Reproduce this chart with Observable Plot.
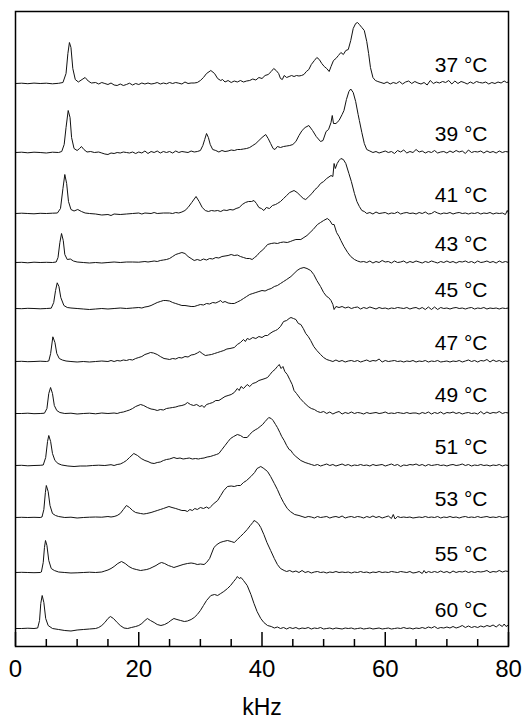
<!DOCTYPE html>
<html>
<head>
<meta charset="utf-8">
<script src="https://cdn.jsdelivr.net/npm/d3@7"></script>
<script src="https://cdn.jsdelivr.net/npm/@observablehq/plot@0.6"></script>
<style>
  html, body { margin: 0; padding: 0; background: #fff; }
  #chart svg { display: block; }
</style>
</head>
<body>
<div id="chart"></div>
<script>
// Temperatures (one spectrum each), top to bottom
const temps = ["37", "39", "41", "43", "45", "47", "49", "51", "53", "55", "60"];
// Vertical offset (baseline) of each spectrum, in intensity units
const offsets = [563, 494, 433, 384, 338, 285, 233, 181, 129, 74, 18];
// X tick labels (kHz)
const majorTicks = [0, 20, 40, 60, 80];
const minorTicks = [5, 10, 15, 25, 30, 35, 45, 50, 55, 65, 70, 75];

// Spectra: flat pairs [kHz, intensity above baseline, ...]
const t37 = [0,0, 1,0.3, 2,-0.2, 3,0.4, 4,0, 5,0.3, 6,-0.3, 7,0.2, 7.7,1, 8.2,10, 8.5,30, 8.75,41, 9.0,36, 9.3,15, 9.7,4, 10.2,1.5, 10.8,4, 11.3,6, 11.8,2.5, 12.3,0.5, 13,1, 13.5,-0.5, 14,1, 14.5,0, 15,-1, 15.5,0.5, 16,-1.5, 16.5,-2, 17,-0.5, 17.5,-2, 18,-1, 18.5,0.3, 19,-1.5, 19.5,0, 20,-1, 20.5,0.5, 21,-0.5, 21.5,0.5, 22,-0.5, 22.5,0, 23,1, 23.5,-0.5, 24,0.5, 24.5,-0.3, 25,1, 25.5,0, 26,1, 26.5,0.3, 27,-0.5, 27.5,1.5, 28,0, 28.5,0.5, 29,0.5, 29.5,1, 30,3, 30.5,6, 31,10, 31.7,13, 32.3,10, 32.8,5, 33.3,3, 33.6,4, 34,1.5, 34.5,3, 35,1, 35.5,2.5, 36,1.5, 36.5,3, 37,1.5, 37.5,2.5, 38,3, 38.5,4.5, 39,3.5, 39.5,6, 40,5, 40.5,8, 41,9, 41.5,12, 41.9,15, 42.3,13, 42.7,10, 43,5, 43.3,4, 43.6,8, 44,6, 44.4,7, 44.8,8, 45.2,7, 45.6,8, 46,7.5, 46.4,8, 46.8,9, 47.2,12, 47.6,14, 48,19, 48.5,23, 48.9,26, 49.3,24, 49.7,20, 50.1,17, 50.5,15, 50.9,12, 51.2,17, 51.6,23, 52,25, 52.4,28, 52.8,31, 53.2,29, 53.6,33, 54,34, 54.4,43, 54.8,55, 55.2,60, 55.5,61, 55.8,59, 56.2,56, 56.6,53, 57,42, 57.3,30, 57.6,16, 58,6, 58.4,3, 58.8,2, 59.3,1, 59.8,0, 60.3,1.5, 60.8,-0.5, 61.3,1, 61.8,0, 62.3,2, 62.8,-0.5, 63.3,1.5, 63.8,2.5, 64.3,0, 64.8,2, 65.3,0.5, 65.8,-0.5, 66.3,1, 66.8,-1.5, 67.3,3, 67.8,0, 68.3,1.5, 68.8,0.5, 69.3,2, 69.8,1, 70.3,3, 70.8,-0.5, 71.3,2.5, 71.8,0, 72.3,2, 72.8,1, 73.3,-0.5, 73.8,1.5, 74.3,0, 74.8,2, 75.3,1, 75.8,0.5, 76.3,1.5, 76.8,-0.5, 77.3,1, 77.8,0, 78.3,1.5, 78.8,0.5, 79.3,2.5, 79.7,1, 80,1.5];
const t39 = [0,0, 1,0.3, 2,-0.3, 3,0.3, 4,0, 5,-0.5, 6,0.3, 7,0, 7.5,1, 7.9,8, 8.2,25, 8.55,42, 8.85,35, 9.1,15, 9.5,4, 10,2, 10.4,4, 10.7,6, 11.1,3, 11.6,0.5, 12.2,1, 12.8,0, 13.5,0.5, 14,-0.5, 14.5,-1.5, 15,-2, 15.5,-0.5, 16,-1, 16.5,0, 17,-0.5, 17.5,0.5, 18,0, 18.5,-0.5, 19,0.5, 19.5,-1, 20,0.5, 20.5,-0.5, 21,1.5, 21.5,-1, 22,1, 22.5,0, 23,1.5, 23.5,-0.5, 24,1, 24.5,0, 25,1, 25.5,-0.5, 26,1.5, 26.5,0, 27,1, 27.5,0.5, 28,0, 28.5,1.5, 29,0.5, 29.5,1, 30,2, 30.4,7, 30.7,13, 31,19, 31.3,15, 31.6,8, 32,3, 32.5,2, 33,0.5, 33.5,2, 34,1, 34.5,1.5, 35,2.5, 35.5,2, 36,3, 36.5,3, 37,3.5, 37.5,4, 38,5, 38.5,7, 39,9, 39.5,12, 40,15, 40.6,18, 41,14, 41.4,9, 41.8,4, 42.1,3, 42.5,6, 43,5, 43.5,6, 44,6.5, 44.5,7, 45,8, 45.5,11, 46,17, 46.5,22, 47,25, 47.6,27, 48.2,22, 48.8,16, 49.5,11, 49.9,12, 50.4,21, 50.8,23, 51.2,30, 51.4,37, 51.6,29, 52,29, 52.5,32, 53,38, 53.3,42, 53.7,53, 54.1,61, 54.4,63.5, 54.8,60, 55.2,51, 55.6,38, 55.8,32, 56.2,20, 56.6,9, 57,3, 57.5,1.5, 58,0, 58.5,1, 59,-0.5, 59.5,0.5, 60,1.5, 60.5,0, 61,1, 61.5,-1, 62,2, 62.5,0.5, 63,2.5, 63.5,-0.5, 64,1, 64.5,0, 65,3, 65.5,0.5, 66,1.5, 66.5,-0.5, 67,1, 67.5,0, 68,2, 68.5,-0.5, 69,0.5, 69.5,1, 70,-0.5, 70.5,1.5, 71,0, 71.5,2, 72,0.5, 72.5,1.5, 73,-1, 73.5,2.5, 74,0, 74.5,1, 75,0.5, 75.5,1.5, 76,-0.5, 76.5,1.5, 77,0, 77.5,1, 78,-0.5, 78.5,1.5, 79,0, 79.5,1, 80,0.5];
const t41 = [0,0, 1,0.3, 2,0, 3,-0.3, 4,0.2, 5,0, 6,0.3, 6.8,0.5, 7.3,5, 7.7,25, 8.0,39, 8.3,30, 8.6,12, 9,4, 9.5,2.5, 10.1,4, 10.7,2, 11.3,0.5, 12,0, 13,-0.5, 14,-1.5, 15,-1, 15.5,-2, 16,-0.5, 17,-1, 18,-0.5, 19,0, 20,0.5, 20.5,-0.5, 21,0.5, 22,0, 22.5,1, 23,0, 24,0.5, 25,0.5, 25.5,0, 26,1, 26.5,0.5, 27,1.5, 27.5,3, 28,6, 28.6,11, 29.3,17, 29.8,12, 30.3,6, 30.8,3, 31.3,2, 31.8,3, 32.3,2.5, 32.8,3, 33.3,2, 33.8,3.5, 34.3,3, 34.8,4, 35.3,3.5, 35.8,5, 36.3,6, 36.8,9, 37.3,11, 37.8,12, 38.3,12, 38.7,13, 39.1,10, 39.5,6, 39.9,5, 40.3,3, 40.7,6, 41.2,5, 41.7,8, 42.2,9, 42.5,10, 43,12, 43.5,15, 44,18, 44.5,21, 45.2,23, 45.7,21, 46.2,18, 46.7,15, 47.1,14, 47.6,17, 48.1,20, 48.6,24, 49,26, 49.5,30, 50,32, 50.5,35, 51.2,38, 51.5,37, 51.7,50, 51.9,45, 52.2,50, 52.5,53, 52.8,55, 53.2,54, 53.6,50, 54.1,40, 54.5,32, 55,20, 55.4,12, 55.8,7, 56.2,3, 56.6,2, 57,0, 57.5,1, 58,-0.5, 58.5,1.5, 59,0, 59.5,0.5, 60,1, 60.5,-0.5, 61,0.5, 61.5,0, 62,1.5, 62.5,-0.5, 63,0.5, 63.5,1, 64,0, 64.5,0.5, 65,-0.5, 65.5,1, 66,0, 66.5,1.5, 67,-0.5, 67.5,0, 68,2, 68.5,0.5, 69,-0.5, 69.5,0.5, 70,0, 70.5,1, 71,-0.5, 71.5,0.5, 72,1, 72.5,0, 73,0.5, 73.5,-0.5, 74,0.5, 74.5,0, 75,1, 75.5,-0.5, 76,0.5, 76.5,0, 77,1, 77.5,-0.5, 78,0.5, 78.5,0, 79,0.5, 79.5,-1, 79.8,3, 80,0.5];
const t43 = [0,0, 1,0.2, 2,-0.3, 3,0.3, 4,0, 5,0.2, 6,0, 6.6,0.5, 6.9,5, 7.2,20, 7.47,29, 7.75,22, 8.0,8, 8.4,3, 8.9,3.5, 9.4,1.5, 10,0.5, 11,0, 12,-0.5, 13,0, 14,-0.5, 15,0, 16,0.5, 17,0, 18,0.5, 19,0.5, 20,0.3, 21,1, 21.5,0.5, 22,1, 22.5,1.5, 23,1, 23.5,2, 24,2.5, 24.5,3, 25,4, 25.5,6, 26,8, 26.5,9, 27,10, 27.5,9, 28,6, 28.5,4, 29,2, 29.5,3, 30,2, 30.5,3.5, 31,2.5, 31.5,4, 32,3.5, 32.5,5, 33,4.5, 33.5,6, 34,6.5, 34.5,7, 35,8, 35.5,7, 36,7.5, 36.5,6, 37,5, 37.5,4, 38,4, 38.4,3, 38.8,5, 39.2,7, 39.6,10, 40,12, 40.5,15, 40.9,18, 41.5,19, 42,19.5, 42.5,19, 43,20, 43.5,20.5, 44.1,20, 44.6,21, 45,22, 45.5,23, 46.3,23, 46.8,25, 47.3,27, 47.8,30, 48.3,33, 49,38, 49.5,40, 50,42, 50.6,44, 51,42, 51.4,38, 51.7,38, 52.1,30, 52.5,26, 52.8,22, 53.3,16, 53.9,10, 54.4,6, 55,3, 55.5,1.5, 56,0.5, 56.5,1, 57,0, 57.5,1.5, 58,-0.5, 58.5,1, 59,0, 59.5,2, 60,0.5, 60.5,1, 61,-0.5, 61.5,1.5, 62,0, 62.5,0.5, 63,1.5, 63.5,-0.5, 64,1, 64.5,0, 65,1.5, 65.5,0.5, 66,-0.5, 66.5,1, 67,0, 67.5,1.5, 68,0.5, 68.5,-0.5, 69,1, 69.5,0, 70,1.5, 70.5,0, 71,1, 71.5,-0.5, 72,1, 72.5,0.5, 73,1.5, 73.5,0, 74,1, 74.5,-0.5, 75,1.5, 75.5,0, 76,0.5, 76.5,1.5, 77,0, 77.5,1, 78,-0.5, 78.5,1.5, 79,0, 79.5,1, 80,0];
const t45 = [0,0, 1,-0.2, 2,0.2, 3,0, 4,-0.3, 5,0, 5.8,0.3, 6.2,6, 6.5,18, 6.77,25.7, 7.05,22, 7.35,11, 7.85,3, 8.4,1, 9,0.5, 10,0, 11,-0.5, 12,-1, 13,-0.5, 14,0, 15,-0.5, 16,0, 17,0.5, 18,0, 19,0.5, 20,1, 20.5,0.5, 21,1.5, 21.5,2, 22,3, 22.5,4.5, 23,6, 23.5,7, 24,8, 24.4,8, 25,7.5, 25.5,6, 26,5, 26.5,4, 27,3, 27.5,3, 28,2.5, 28.5,2, 29,2, 29.5,3, 30,4, 30.5,3.5, 31,5, 31.5,4.5, 32,6, 32.5,5.5, 33,7, 33.3,8, 33.6,6, 34,7, 34.5,5.5, 35,5, 35.5,5, 36,6.5, 36.5,8, 37,10, 37.5,12, 38,14, 38.5,15, 39,16, 39.5,17, 40,18, 40.5,17.5, 41,19, 41.5,20, 42,22, 42.5,23, 43,25, 43.5,27, 44,29, 44.7,32, 45.2,35, 45.7,38, 46.2,40, 46.8,41, 47.3,40, 47.9,38, 48.4,34, 48.9,28, 49.5,22, 50,16, 50.5,12, 50.8,11, 51.2,8, 51.5,4, 51.7,-1, 52,2, 52.5,1, 53,2, 53.5,0.5, 54,1.5, 54.5,0, 55,1, 55.5,1.5, 56,-0.5, 56.5,1, 57,0, 57.5,1.5, 58,0.5, 58.5,-0.5, 59,1, 59.5,0, 60,0.5, 60.5,-0.5, 61,0.5, 61.5,0, 62,1, 62.5,0.5, 63,0, 63.5,1, 64,-0.5, 64.5,0.5, 65,1, 65.5,-0.5, 66,1, 66.5,-1, 67,1.5, 67.5,-1, 68,1.5, 68.5,-1, 69,1, 69.5,0, 70,0.5, 70.5,-0.5, 71,0.5, 71.5,1, 72,0, 72.5,0.5, 73,-0.5, 73.5,0.5, 74,1, 74.5,-0.5, 75,0.5, 75.5,0, 76,1, 76.5,-0.5, 77,0.5, 77.5,0, 78,0.5, 78.5,-0.5, 79,0.5, 79.5,0, 80,0.5];
const t47 = [0,0, 1,0.2, 2,-0.2, 3,0, 4,0.3, 5,0, 5.4,0.5, 5.7,8, 6.06,24.7, 6.4,19, 6.7,8, 7.1,3, 7.6,1.5, 8.2,0.5, 9,0, 10,-0.5, 11,0, 12,-0.5, 13,0, 14,0.5, 15,0, 15.5,1, 16,0, 16.5,1, 17,0.5, 17.5,1.5, 18,1, 18.5,2, 19,1.5, 19.5,3, 20,4, 20.5,5, 21,7, 21.5,8, 21.9,9, 22.4,8.5, 23,7, 23.5,5, 24.1,3, 24.6,2.5, 25,2, 25.5,3, 26,2.5, 26.5,4, 27,3.5, 27.5,5, 28,4.5, 28.5,6.5, 29,7, 29.5,8.5, 29.9,10, 30.3,8, 30.8,6, 31.3,6.5, 31.8,7, 32.3,8, 32.8,9, 33.3,10, 33.8,11, 34.3,12.5, 34.8,13, 35.5,14, 36,17, 36.5,19, 37,22, 37.3,20, 37.6,23, 38,22, 38.5,24, 39,23, 39.5,25, 40,24, 40.5,26, 40.9,26, 41.3,28, 41.8,30, 42.2,31, 42.5,32, 43,35, 43.5,40, 44,41, 44.4,43, 44.7,44, 45.1,43, 45.5,42, 45.9,38, 46.3,37, 46.7,33, 47.1,28, 47.5,25, 47.9,21, 48.4,15, 48.9,11, 49.5,7, 50,4, 50.5,2, 51,1, 51.5,0, 52,1.5, 52.5,0, 53,1, 53.5,-0.5, 54,0.5, 54.5,1, 55,0, 55.5,1, 56,-0.5, 56.5,0.5, 57,1.5, 57.5,0, 58,1, 58.5,0.5, 59,2.5, 59.5,-0.5, 60,1, 60.5,0, 61,0.5, 61.5,1, 62,0, 62.5,0.5, 63,-0.5, 63.5,0.5, 64,0, 64.5,1, 65,-0.5, 65.5,0.5, 66,0, 66.5,1, 67,-0.5, 67.5,0.5, 68,0, 68.5,1, 69,-0.5, 69.5,0, 70,0.5, 70.5,-0.5, 71,0.5, 71.5,0, 72,1, 72.5,-0.5, 73,0.5, 73.5,1.5, 74,0, 74.5,1, 75,-0.5, 75.5,1, 76,0.5, 76.5,2, 77,-0.5, 77.5,1.5, 78,0, 78.5,1, 79,-0.5, 79.5,0.5, 80,0];
const t49 = [0,0, 1,0, 2,0.3, 3,-0.2, 4,0, 4.7,0.3, 5.1,5, 5.4,20, 5.69,26, 6.0,20, 6.3,8, 6.7,3, 7.2,1, 8,0, 9,0.3, 10,-0.5, 11,0, 12,0.3, 13,-0.3, 14,0.5, 15,0, 16,0.5, 16.5,0, 17,1, 17.5,1.5, 18,2.5, 18.5,3.5, 19,5, 19.5,7, 20.3,9, 20.8,8, 21.4,6, 22,4.5, 22.5,4, 23,3, 23.5,4, 24,3.5, 24.5,5, 25,5.5, 25.5,6, 26,6.5, 26.5,7.5, 27,8, 27.5,9, 27.9,11, 28.4,9, 28.9,8, 29.4,9, 29.9,7, 30.3,8, 30.6,6, 31,9, 31.5,10, 32,11, 32.5,13, 33,13, 33.5,15, 34,17, 34.5,18, 35,19, 35.5,21, 36,25, 36.3,23, 36.6,27, 37,25, 37.6,29, 38,27, 38.5,30, 39,31, 39.5,33, 40,34, 40.5,35, 40.9,36, 41.3,39, 41.7,42, 42.1,44, 42.5,47, 42.8,49, 43.1,45, 43.4,47, 43.7,42, 44.1,39, 44.5,34, 44.9,29, 45.2,23, 45.6,20, 46.2,15, 46.8,11, 47.5,7, 48,5, 48.5,4, 49,2, 49.5,1, 50,2, 50.5,0, 51,1.5, 51.5,-0.5, 52,1, 52.5,2, 53,-0.5, 53.5,1, 54,0, 54.5,1.5, 55,0, 55.5,1, 56,0.5, 56.5,-0.5, 57,1, 57.5,0, 58,0.5, 58.5,1, 59,0, 59.5,0.5, 60,1.5, 60.5,0, 61,0.5, 61.5,0, 62,1, 62.5,0.5, 63,0, 63.5,1, 64,0, 64.5,0.5, 65,0.5, 65.5,-0.5, 66,1, 66.5,0, 67,1.5, 67.5,-0.5, 68,1, 68.5,0, 69,1.5, 69.5,-0.5, 70,1, 70.5,0.5, 71,1.5, 71.5,0, 72,1, 72.5,-0.5, 73,0.5, 73.5,1, 74,0, 74.5,0.5, 75,-0.5, 75.5,2, 76,-0.5, 76.5,1.5, 77,0, 77.5,1, 78,0.5, 78.5,2, 79,0, 79.5,1, 80,0.5];
const t51 = [0,0, 1,0.2, 2,-0.3, 3,0, 4,0.2, 4.5,0.5, 4.9,8, 5.2,24, 5.4,30, 5.7,24, 6,12, 6.4,5, 6.9,2, 7.5,0.5, 8.5,-0.5, 9.5,-1, 10.5,-0.5, 11.5,-0.5, 12.5,0, 13.5,0.3, 14.5,0, 15.5,0.8, 16,0, 16.5,1, 17,1.5, 17.5,3, 18,5, 18.5,8, 19.2,12, 19.8,10, 20.4,7, 21,5, 21.5,4, 22,2.5, 22.5,2, 23,3, 23.5,3.5, 24,5, 24.5,6, 25,6.5, 25.7,8, 26.2,7, 26.7,7.5, 27.2,6.5, 27.7,7, 28.2,7.5, 28.7,6.5, 29.2,7, 29.7,6.5, 30,7, 30.6,7.5, 31.1,8.5, 31.6,9, 32.1,10, 32.6,11, 33,12, 33.5,16, 34,20, 34.5,24, 34.9,27, 35.4,29, 36,31, 36.5,30, 37,28, 37.6,28, 38,31, 38.5,34, 39,36, 39.3,37, 39.7,39, 40.1,41, 40.5,44, 41.1,48, 41.5,47, 41.8,45, 42.2,41, 42.5,38, 42.9,33, 43.2,29, 43.6,25, 44,20, 44.4,16, 44.7,15, 45,12, 45.5,9, 46.3,5, 47,3, 47.5,2, 48,1, 48.5,0, 49,1, 49.5,-0.5, 50,0.5, 50.5,1.5, 51,0, 51.5,1, 52,-0.5, 52.5,0.5, 53,1.5, 53.5,0, 54,1, 54.5,-0.5, 55,0.5, 55.5,0, 56,1, 56.5,0, 57,0.5, 57.5,-0.5, 58,1, 58.5,0, 59,0.5, 59.5,1, 60,-0.5, 60.5,0.5, 61,1.5, 61.5,0, 62,1, 62.5,-1, 63,0.5, 63.5,0, 64,1, 64.5,0.5, 65,1.5, 65.5,0, 66,1, 66.5,-0.5, 67,1, 67.5,0, 68,0.5, 68.5,1, 69,0, 69.5,0.5, 70,-0.5, 70.5,0.5, 71,1, 71.5,0, 72,0.5, 72.5,1.5, 73,0, 73.5,1, 74,-0.5, 74.5,0.5, 75,0, 75.5,1, 76,0, 76.5,0.5, 77,-0.5, 77.5,0.5, 78,0, 78.5,1, 79,-0.5, 79.5,0.5, 80,0];
const t53 = [0,0, 1,0.2, 2,0, 3,0.2, 4,0, 4.3,0.5, 4.6,8, 4.85,25, 5.0,32, 5.3,26, 5.6,12, 6,4, 6.5,2, 7,1, 8,0, 9,0.3, 10,-0.5, 11,0, 12,0.3, 13,0.5, 14,0.3, 15,1, 15.5,0.5, 16,1, 16.5,2, 17,4, 17.5,8, 18,12, 18.5,10, 19,7, 19.5,5, 20.3,4, 20.8,3.5, 21.3,4, 22,5, 22.5,6, 23,7, 23.5,8, 24,9, 24.9,11, 25.4,10, 26,9, 26.5,8, 27,7, 27.5,7, 27.9,6, 28.3,8, 28.7,7, 29.1,9, 29.5,8, 30,10, 30.5,9, 31,10.5, 31.4,9, 31.7,11, 32.2,14, 32.8,17, 33.3,22, 33.8,27, 34.4,31, 35,31.5, 35.5,31, 36,32, 36.5,32, 37,35, 37.5,37, 38.2,41, 38.8,45, 39.2,49, 39.5,50, 39.8,51, 40.3,49, 40.9,46, 41.4,41, 42,34, 42.5,28, 43,21, 43.5,15, 44.1,9, 44.6,6, 45.3,3, 46,2, 46.5,1, 47,0, 47.5,1, 48,0.5, 48.5,-0.5, 49,1, 49.5,0, 50,0.5, 50.5,1, 51,-0.5, 51.5,0.5, 52,1, 52.5,0, 53,1.5, 53.5,-0.5, 54,0.5, 54.5,1, 55,0, 55.5,1, 56,0.5, 56.5,-0.5, 57,1, 57.5,0, 58,1.5, 58.5,0, 59,1, 59.5,-0.5, 60,0.5, 60.5,1.5, 61,-1, 61.3,3, 61.6,-1.5, 62,1, 62.5,0, 63,0.5, 63.5,0, 64,0.5, 64.5,-0.5, 65,0, 65.5,0.5, 66,0, 66.5,1, 67,0, 67.5,0.5, 68,0, 68.5,1, 69,-0.5, 69.5,0.5, 70,0, 70.5,1, 71,0, 71.5,0.5, 72,-0.5, 72.5,0.5, 73,1, 73.5,0, 74,0.5, 74.5,0, 75,1, 75.5,0, 76,0.5, 76.5,1, 77,0, 77.5,0.5, 78,0, 78.5,1, 79,0, 79.5,0.5, 80,1];
const t55 = [0,0, 1,0.2, 2,0, 3,-0.2, 4,0, 4.2,0.5, 4.5,10, 4.7,25, 4.87,32, 5.1,27, 5.4,12, 5.8,4, 6.3,2, 7,0.5, 8,0, 9,-0.5, 10,-0.3, 11,0, 12,0.3, 13,0, 14,0.5, 14.5,1.5, 15,2.5, 15.5,4, 16,6, 16.6,9, 17.2,11, 17.8,9, 18.4,6, 19,4, 19.6,3, 20.3,2, 20.8,2.5, 21.3,3, 21.8,4, 22.3,5.5, 22.8,7, 23.3,9, 23.7,10, 24.2,9, 24.8,7, 25.3,6, 25.7,5, 26.2,6, 26.7,7, 27.2,8, 27.9,9, 28.5,9.5, 29,9, 29.5,8, 30,8.5, 30.6,8, 31,10, 31.5,14, 32.2,25, 32.7,28, 33.2,30, 33.7,31, 34.4,32, 35,31, 35.5,30, 36,33, 36.5,36, 37,39, 37.6,43, 38.1,47, 38.5,50, 38.7,52, 39,51, 39.4,49, 39.8,45, 40.3,38, 40.8,30, 41.4,22, 42,14, 42.5,8, 43,4, 43.6,2, 44,1, 44.5,2, 45,0.5, 45.5,1.5, 46,0, 46.5,2, 47,0, 47.5,1, 48,-0.5, 48.5,0.5, 49,1, 49.5,0, 50,0.5, 50.5,-0.5, 51,0.5, 51.5,0, 52,1, 52.5,0, 53,0.5, 53.5,0, 54,0.5, 54.5,-0.5, 55,0.5, 55.5,0, 56,1, 56.5,0, 57,0.5, 57.5,-0.5, 58,0.5, 58.5,0, 59,1, 59.5,0, 60,0.5, 60.5,0, 61,1, 61.5,0.5, 62,0, 62.5,1, 63,0.5, 63.5,0, 64,1, 64.5,-0.5, 65,0, 65.5,1, 66,-1, 66.3,2, 66.6,-0.5, 67,1, 67.5,0, 68,1, 68.5,0, 69,1.5, 69.5,0, 70,1, 70.5,-0.5, 71,1.5, 71.5,0, 72,1, 72.5,0.5, 73,1.5, 73.5,0, 74,1, 74.5,0, 75,1, 75.5,0.5, 76,1, 76.5,2, 77,0, 77.5,1, 78,0.5, 78.5,2, 79,0.5, 79.5,1.5, 80,1];
const t60 = [0,0, 1,0, 2,0.3, 3,0, 3.6,0.5, 3.9,8, 4.1,25, 4.33,33, 4.6,26, 4.9,10, 5.3,3, 6,0, 7,-1, 8,-2, 9,-2.5, 10,-1.5, 11,-1, 12,-0.5, 13,0, 13.5,1, 14,3, 14.5,6, 15,10, 15.4,12, 15.9,10, 16.5,6, 17,3, 17.6,0.5, 18.2,0, 18.8,1, 19.5,2, 20,3, 20.5,5, 21,8, 21.4,10, 21.9,8, 22.5,6, 23,4, 23.6,3, 24.2,4, 24.8,6, 25.2,8, 25.7,10, 26.2,9, 26.8,8, 27.4,7, 27.9,7.5, 28.5,9, 29,11, 29.5,14, 30,18, 30.5,23, 31,28, 31.7,33, 32.3,34, 32.8,33, 33.3,35, 33.8,37, 34.4,40, 34.9,43, 35.4,47, 35.8,50, 36,52, 36.3,50, 36.6,51, 37,48, 37.6,43, 38.2,34, 38.7,25, 39.2,17, 39.8,10, 40.3,6, 40.9,3, 41.5,2, 42,0.5, 42.5,1.5, 43,0, 43.5,1, 44,-0.5, 44.5,1, 45,0, 45.5,1, 46,-0.5, 46.5,0.5, 47,0, 47.5,1, 48,-0.5, 48.5,0.5, 49,0, 49.5,1, 50,-0.5, 50.5,0, 51,0.5, 51.5,-0.5, 52,0.5, 52.5,0, 53,-0.5, 53.5,0.5, 54,0, 54.5,0.5, 55,-0.5, 55.5,0, 56,0.5, 56.5,-0.5, 57,0, 57.5,0.5, 58,-0.5, 58.5,0, 59,0.5, 59.5,-0.5, 60,0, 60.5,0.5, 61,-0.5, 61.5,0, 62,0.5, 62.5,0, 63,1, 63.5,0, 64,0.5, 64.5,-0.5, 65,0.5, 65.5,0, 66,1, 66.5,0, 67,1.5, 67.5,0.5, 68,2, 68.5,0, 69,1, 69.5,0.5, 70,1.5, 70.5,0.5, 71,2, 71.5,0.5, 72,1.5, 72.5,3, 73,1, 73.5,2.5, 74,1, 74.5,2, 75,1, 75.5,2.5, 76,1.5, 76.5,3, 77,2, 77.5,3.5, 78,1.5, 78.5,4, 79,2, 79.3,4.5, 79.6,2, 80,3.5];

const traces = [t37, t39, t41, t43, t45, t47, t49, t51, t53, t55, t60];

const points = traces.flatMap((arr, i) => {
  const pts = [];
  for (let j = 0; j < arr.length; j += 2) {
    pts.push({temp: temps[i], khz: arr[j], v: offsets[i] + arr[j + 1]});
  }
  return pts;
});
const labels = temps.map((t, i) => ({text: `${t} °C`, base: offsets[i]}));

const font = "'Liberation Sans', Arial, Helvetica, sans-serif";

const chart = Plot.plot({
  width: 524,
  height: 723,
  marginLeft: 15,
  marginRight: 16,
  marginTop: 11,
  marginBottom: 77,
  style: {fontFamily: font, background: "#fff", color: "#000"},
  x: {domain: [0, 80]},
  y: {domain: [0, 635]},
  marks: [
    Plot.line(points, {x: "khz", y: "v", z: "temp", stroke: "#111", strokeWidth: 1, curve: "linear"}),
    Plot.text(labels, {x: 76.6, y: "base", text: "text", textAnchor: "end", dy: -18, fontSize: 21, fill: "#000"}),
    Plot.ruleX(majorTicks, {x: d => d, y1: 0, y2: 14, stroke: "#000", strokeWidth: 1.5}),
    Plot.ruleX(minorTicks, {x: d => d, y1: 0, y2: 7, stroke: "#000", strokeWidth: 1.5}),
    Plot.frame({stroke: "#000", strokeWidth: 1.5}),
    Plot.axisX({ticks: majorTicks, tickSize: 0, tickPadding: 13, fontSize: 24, label: null, tickFormat: d => String(d)}),
    Plot.axisY({ticks: [], label: null, tickSize: 0}),
    Plot.text(["kHz"], {frameAnchor: "bottom", text: d => d, dy: 68, fontSize: 23, fill: "#000"})
  ]
});
document.getElementById("chart").appendChild(chart);
</script>
</body>
</html>
